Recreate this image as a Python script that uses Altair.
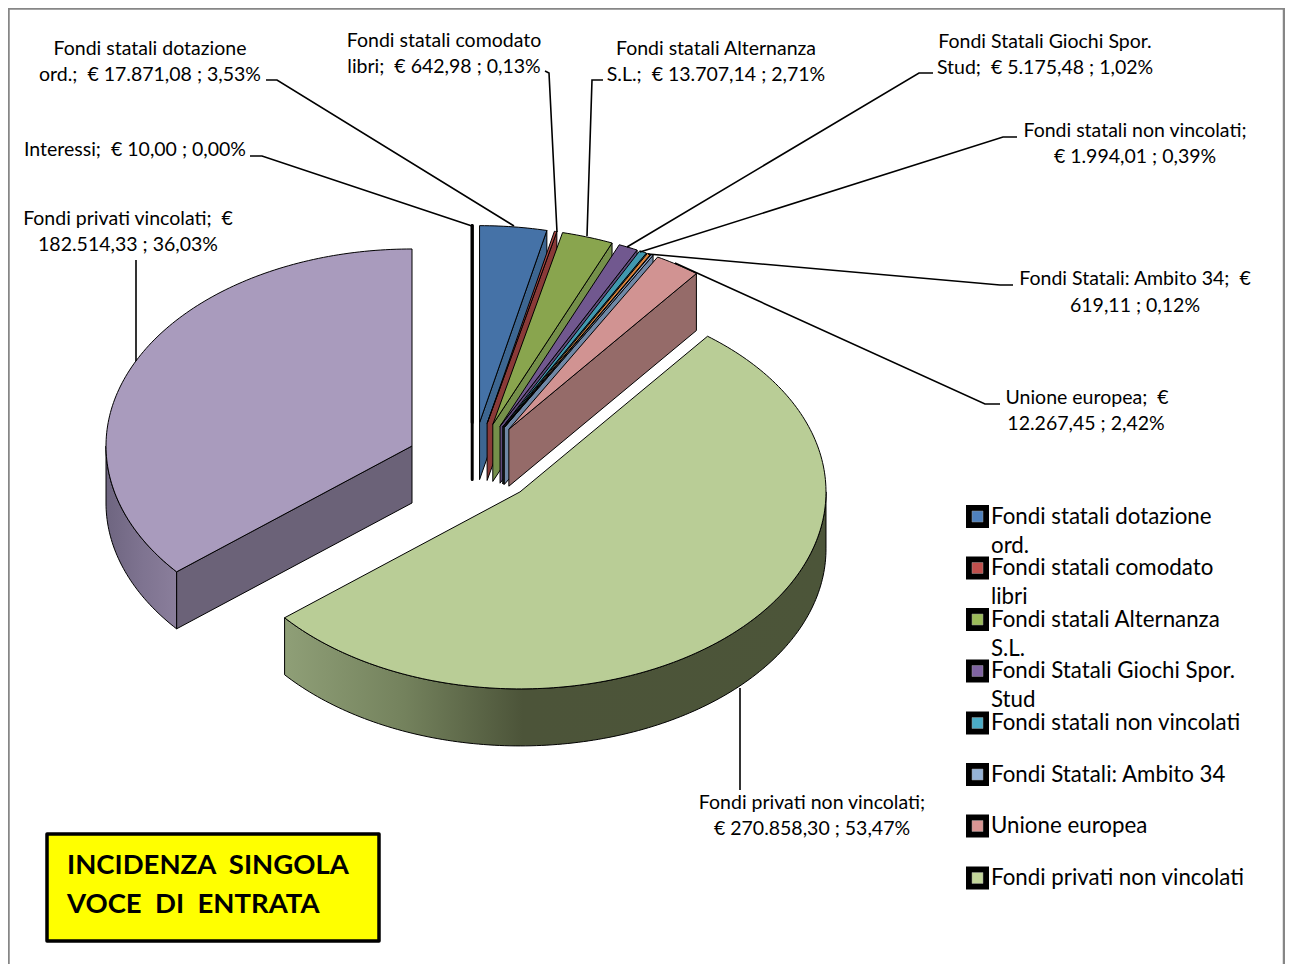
import math
import altair as alt
import pandas as pd

NB = "\u00a0"
# ---- data ----
names = ["Fondi statali dotazione ord.", "Fondi statali comodato libri", "Fondi statali Alternanza S.L.",
         "Fondi Statali Giochi Spor. Stud", "Fondi statali non vincolati", "(non etichettata)",
         "Fondi Statali: Ambito 34", "Unione europea", "Fondi privati non vincolati",
         "Fondi privati vincolati", "Interessi"]
percent = [3.53, 0.13, 2.71, 1.02, 0.39, 0.18, 0.12, 2.42, 53.47, 36.03, 0.00]
top_colors = ["#4572A7", "#AA4643", "#89A54E", "#71588F", "#4198AF", "#DB843D", "#93A9CF", "#D19392",
              "#B9CD96", "#A99BBD", "#000000"]
side_colors = ["#3D6691", "#8A3A38", "#75904A", "#5E4A7A", "#38859A", "#B06A30", "#6F88A6", "#956B69",
               None, "#6B6278", "#000000"]

label_lines = ["Fondi statali dotazione", "ord.;  € 17.871,08 ; 3,53%",
               "Fondi statali comodato", "libri;  € 642,98 ; 0,13%",
               "Fondi statali Alternanza", "S.L.;  € 13.707,14 ; 2,71%",
               "Fondi Statali Giochi Spor.", "Stud;  € 5.175,48 ; 1,02%",
               "Fondi statali non vincolati;", "€ 1.994,01 ; 0,39%",
               "Fondi Statali: Ambito 34;  €", "619,11 ; 0,12%",
               "Unione europea;  €", "12.267,45 ; 2,42%",
               "Fondi privati non vincolati;", "€ 270.858,30 ; 53,47%",
               "Fondi privati vincolati;  €", "182.514,33 ; 36,03%",
               "Interessi;  € 10,00 ; 0,00%"]
label_x = [150, 150, 444, 444, 716, 716, 1045, 1045, 1135, 1135, 1135, 1135, 1087, 1086, 812, 812, 128, 128, 135]
label_y = [49, 75, 41, 67, 49, 75, 42, 68, 131, 157, 279, 306, 398, 424, 803, 829, 219, 245, 150]

legend_lines = [["Fondi statali dotazione", "ord."], ["Fondi statali comodato", "libri"],
                ["Fondi statali Alternanza", "S.L."], ["Fondi Statali Giochi Spor.", "Stud"],
                ["Fondi statali non vincolati"], ["Fondi Statali: Ambito 34"], ["Unione europea"],
                ["Fondi privati non vincolati"]]
legend_colors = ["#4F81BD", "#C0504D", "#9BBB59", "#8064A2", "#4BACC6", "#95B3D7", "#D99694", "#C3D69B"]
legend_y = [516.5, 568, 619.5, 671, 723, 774.5, 826, 878]

leaders = [[(266, 80), (277, 80), (514, 226)],
           [(250, 156), (262, 156), (472, 226)],
           [(545, 71), (549, 73), (557, 232)],
           [(603, 80), (592, 80), (587, 236)],
           [(933, 73), (919, 73), (627, 247)],
           [(1017, 137), (1003, 137), (640, 252)],
           [(1013, 285), (1000, 285), (648, 254)],
           [(1000, 404), (985, 404), (675, 263)],
           [(136, 260), (136, 361)],
           [(740, 790), (740, 688)]]

# ---- pie geometry (an oblique 3-D pie) ----
CX, CY, RX, RY = 472.2, 463.4, 306, 197
EX, EY, DEPTH = 66.5, 41, 57

X = alt.X("x:Q", axis=None, scale=alt.Scale(domain=[8, 1285], nice=False, zero=False))
Y = alt.Y("y:Q", axis=None, scale=alt.Scale(domain=[964, 8], nice=False, zero=False))


def poly(points, fill, stroke="#000000", width=1.0):
    df = pd.DataFrame({"x": [p[0] for p in points], "y": [p[1] for p in points], "i": range(len(points))})
    return alt.Chart(df).mark_line(interpolate="linear-closed", fill=fill, stroke=stroke, strokeWidth=width,
                                   strokeJoin="round", clip=False).encode(x=X, y=Y, order=alt.Order("i:Q"))


def grad(stops):
    return alt.LinearGradient(gradient="linear", x1=0, x2=1, y1=0, y2=0,
                              stops=[alt.GradientStop(offset=o, color=c) for o, c in stops])


def arc(ax, ay, t0, t1, dy=0.0):
    n = max(2, int(abs(t1 - t0)) + 2)
    out = []
    for k in range(n + 1):
        t = math.radians(t0 + (t1 - t0) * k / n)
        out.append((ax + RX * math.sin(t), ay - RY * math.cos(t) + dy))
    return out


layers = []
# frame
layers.append(poly([(8.5, 8.5), (1284, 8.5), (1284, 985), (8.5, 985)], "#FFFFFF", "#868686", 2.5))

cum = 0.0
slices = []
for i, p in enumerate(percent):
    t0 = cum * 3.6
    t1 = (cum + p) * 3.6
    cum += p
    mid = math.radians((t0 + t1) / 2)
    ax = CX + EX * math.sin(mid)
    ay = CY - EY * math.cos(mid)
    slices.append((i, t0, t1, ax, ay))

order = [10, 9, 0, 1, 2, 3, 4, 5, 6, 7, 8]
for i, t0, t1, ax, ay in [slices[j] for j in order]:
    if i == 8:   # large green slice: outer wall
        top = arc(ax, ay, 90, t1)
        low = arc(ax, ay, 90, t1, DEPTH)
        layers.append(poly(top + low[::-1],
                           grad([(0, "#8F9F77"), (0.22, "#74825D"), (0.44, "#4C5439"), (1, "#4C5539")])))
    elif i == 9:  # large purple slice: cut face and outer wall
        end = arc(ax, ay, t0, t0)[0]
        layers.append(poly([(ax, ay), end, (end[0], end[1] + DEPTH), (ax, ay + DEPTH)], side_colors[i]))
        top = arc(ax, ay, t0, 270)
        low = arc(ax, ay, t0, 270, DEPTH)
        layers.append(poly(top + low[::-1], grad([(0, "#6E6580"), (0.5, "#7E7390"), (1, "#8A7E9B")])))
    else:
        end = arc(ax, ay, t1, t1)[0]
        layers.append(poly([(ax, ay), end, (end[0], end[1] + DEPTH), (ax, ay + DEPTH)], side_colors[i],
                           width=3 if i == 10 else 1))
    layers.append(poly([(ax, ay)] + arc(ax, ay, t0, t1), top_colors[i], width=3 if i == 10 else 1))

# leader lines
for line in leaders:
    df = pd.DataFrame({"x": [p[0] for p in line], "y": [p[1] for p in line], "i": range(len(line))})
    layers.append(alt.Chart(df).mark_line(color="#000000", strokeWidth=1.6).encode(x=X, y=Y, order=alt.Order("i:Q")))

# data labels
FONT = "Lato"
layers.append(alt.Chart(pd.DataFrame({"x": label_x, "y": label_y,
                                      "t": [s.replace("  ", " " + NB) for s in label_lines]})).mark_text(
    font=FONT, fontSize=19.5, align="center", baseline="middle", color="#000000").encode(x=X, y=Y, text="t:N"))

# legend
leg_rows = pd.DataFrame({"x": [977.5] * 8, "y": legend_y, "c": legend_colors, "n": names[:5] + names[6:9]})
layers.append(alt.Chart(leg_rows).mark_square(size=529, color="#000000", opacity=1).encode(x=X, y=Y))
layers.append(alt.Chart(leg_rows).mark_square(size=121, opacity=1, stroke="#9a9a9a", strokeWidth=0.5).encode(
    x=X, y=Y, fill=alt.Fill("c:N", scale=None)))
leg_txt = [(991, y + 29 * k, s) for y, ls in zip(legend_y, legend_lines) for k, s in enumerate(ls)]
layers.append(alt.Chart(pd.DataFrame(leg_txt, columns=["x", "y", "t"])).mark_text(
    font=FONT, fontSize=22.3, align="left", baseline="middle", color="#000000").encode(x=X, y=Y, text="t:N"))

# title box
layers.append(poly([(47, 834), (379, 834), (379, 941), (47, 941)], "#FFFF00", "#000000", 3.5))
layers.append(alt.Chart(pd.DataFrame({"x": [67, 67], "y": [866, 905],
                                      "t": ["INCIDENZA " + NB + "SINGOLA", "VOCE " + NB + "DI " + NB + "ENTRATA"]})).mark_text(
    font=FONT, fontSize=27.5, fontWeight="bold", align="left", baseline="middle", color="#000000").encode(
    x=X, y=Y, text="t:N"))

chart = alt.layer(*layers).properties(
    width=1277, height=956, padding=0, background="#FFFFFF",
    autosize=alt.AutoSizeParams(type="none")
).configure_view(stroke=None)

chart.save("out.html", embed_options={"renderer": "svg", "actions": False})
